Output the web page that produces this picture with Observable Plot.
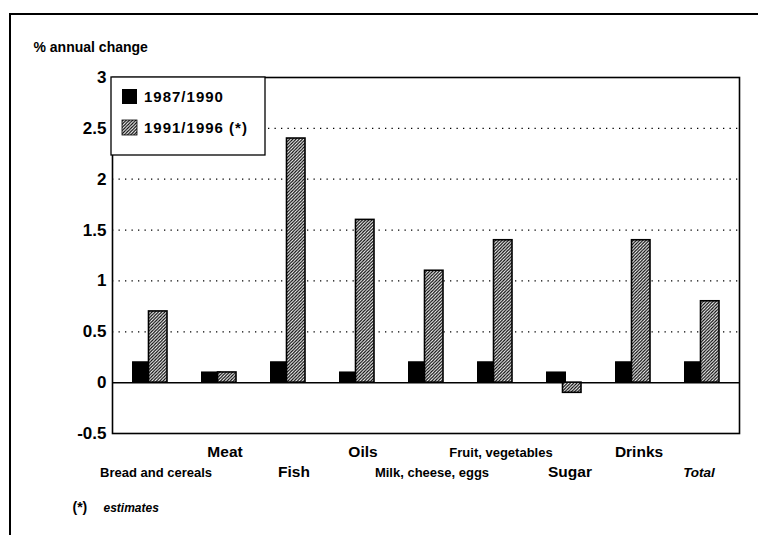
<!DOCTYPE html>
<html>
<head>
<meta charset="utf-8">
<script src="https://cdn.jsdelivr.net/npm/d3@7"></script>
<script src="https://cdn.jsdelivr.net/npm/@observablehq/plot@0.6"></script>
<style>
  html, body { margin: 0; padding: 0; background: white; }
  svg { display: block; }
</style>
</head>
<body>
<div id="chart"></div>
<script>
const categories = ["Bread and cereals", "Meat", "Fish", "Oils", "Milk, cheese, eggs", "Fruit, vegetables", "Sugar", "Drinks", "Total"];
const series = ["1987/1990", "1991/1996 (*)"];
const values1987 = [0.2, 0.1, 0.2, 0.1, 0.2, 0.2, 0.1, 0.2, 0.2];
const values1991 = [0.7, 0.1, 2.4, 1.6, 1.1, 1.4, -0.1, 1.4, 0.8];
const yTicks = [-0.5, 0, 0.5, 1, 1.5, 2, 2.5, 3];
const gridTicks = [0.5, 1, 1.5, 2, 2.5];
const yLabel = "% annual change";
const footnoteMark = "(*)";
const footnoteText = "estimates";

const data1 = categories.map((c, i) => ({category: c, series: series[0], value: values1987[i]}));
const data2 = categories.map((c, i) => ({category: c, series: series[1], value: values1991[i]}));

const upperRow = categories.filter((c, i) => i % 2 === 1);
const lowerRow = categories.filter((c, i) => i % 2 === 0 && i < categories.length - 1);
const lastRow = [categories[categories.length - 1]];
const longLabels = categories.filter(d => d.length > 8);
const shortLabels = categories.filter(d => d.length <= 8);

const font = "'Liberation Sans', Arial, Helvetica, sans-serif";

function labelMarks(list, dy) {
  const longs = list.filter(d => longLabels.includes(d));
  const shorts = list.filter(d => shortLabels.includes(d));
  return [
    Plot.text(longs, {x: d => d, text: d => d, frameAnchor: "bottom", dy, dx: 6, lineAnchor: "middle", fontSize: 13, fontWeight: "bold", letterSpacing: "1.4px"}),
    Plot.text(shorts, {x: d => d, text: d => d, frameAnchor: "bottom", dy, dx: 6, lineAnchor: "middle", fontSize: 15.5, fontWeight: "bold", letterSpacing: "2.3px"})
  ];
}

const chart = Plot.plot({
  width: 758,
  height: 535,
  marginLeft: 112,
  marginRight: 19,
  marginTop: 77,
  marginBottom: 102,
  style: {fontFamily: font, fontWeight: "bold", background: "white", color: "black", overflow: "visible"},
  x: {domain: categories, padding: 0, axis: null},
  y: {domain: [-0.5, 3], axis: null},
  marks: [
    Plot.gridY(gridTicks, {stroke: "black", strokeOpacity: 1, strokeWidth: 1.3, strokeDasharray: "1.3,5.2"}),
    Plot.axisY(yTicks, {tickSize: 0, tickPadding: 6, fontSize: 17, fontWeight: "bold", letterSpacing: "2px", tickFormat: d => String(d), label: null}),
    Plot.ruleY([0], {stroke: "black", strokeWidth: 1.5}),
    Plot.barY(data1, {x: "category", y: "value", fill: "black", stroke: "black", strokeWidth: 1, insetLeft: 17.5, insetRight: 32.5}),
    Plot.barY(data2, {x: "category", y: "value", fill: "url(#hatch)", stroke: "black", strokeWidth: 1.6, insetLeft: 33.5, insetRight: 17}),
    Plot.frame({stroke: "black", strokeWidth: 1.6}),
    ...labelMarks(upperRow, 19),
    ...labelMarks(lowerRow, 39),
    Plot.text(lastRow, {x: d => d, text: d => d, frameAnchor: "bottom", dy: 39, dx: -3, lineAnchor: "middle", fontSize: 13.5, fontWeight: "bold", fontStyle: "italic", letterSpacing: "1.8px"}),
    Plot.text([yLabel], {text: d => d, frameAnchor: "top-left", dx: -79, dy: -30, textAnchor: "start", lineAnchor: "middle", fontSize: 14, fontWeight: "bold", letterSpacing: "2.1px"}),
    Plot.text([footnoteMark], {text: d => d, frameAnchor: "bottom-left", dx: -40, dy: 74, textAnchor: "start", lineAnchor: "middle", fontSize: 14, fontWeight: "bold", letterSpacing: "1px"}),
    Plot.text([footnoteText], {text: d => d, frameAnchor: "bottom-left", dx: -9, dy: 75, textAnchor: "start", lineAnchor: "middle", fontSize: 12, fontWeight: "bold", fontStyle: "italic", letterSpacing: "2.8px"})
  ]
});

const svg = d3.select(chart);
// hatch pattern
const defs = svg.insert("defs", ":first-child");
const pat = defs.append("pattern")
  .attr("id", "hatch")
  .attr("patternUnits", "userSpaceOnUse")
  .attr("width", 3.2).attr("height", 3.2);
pat.append("rect").attr("width", 3.2).attr("height", 3.2).attr("fill", "white");
pat.append("path")
  .attr("d", "M-1,1 L1,-1 M0,3.2 L3.2,0 M2.2,4.2 L4.2,2.2")
  .attr("stroke", "black").attr("stroke-width", 1.2);

// outer page frame
svg.append("line").attr("x1", 10).attr("x2", 758).attr("y1", 14).attr("y2", 14).attr("stroke", "black").attr("stroke-width", 2);
svg.append("line").attr("x1", 10).attr("x2", 10).attr("y1", 13).attr("y2", 535).attr("stroke", "black").attr("stroke-width", 2);

// legend
const lg = svg.append("g").attr("font-family", font).attr("font-weight", "bold").attr("font-size", 15)
  .attr("text-anchor", "start").attr("letter-spacing", "1px");
lg.append("rect").attr("x", 111).attr("y", 77).attr("width", 154).attr("height", 78)
  .attr("fill", "white").attr("stroke", "black").attr("stroke-width", 1.3);
const fills = ["black", "url(#hatch)"];
series.forEach((s, i) => {
  const yy = 89 + i * 31;
  lg.append("rect").attr("x", 122).attr("y", yy).attr("width", 15).attr("height", 15)
    .attr("fill", fills[i]).attr("stroke", "black").attr("stroke-width", i ? 0.8 : 0);
  lg.append("text").attr("x", 144).attr("y", yy + 8).attr("dy", "0.35em").attr("text-anchor", "start").text(s);
});

document.getElementById("chart").appendChild(chart);
</script>
</body>
</html>
